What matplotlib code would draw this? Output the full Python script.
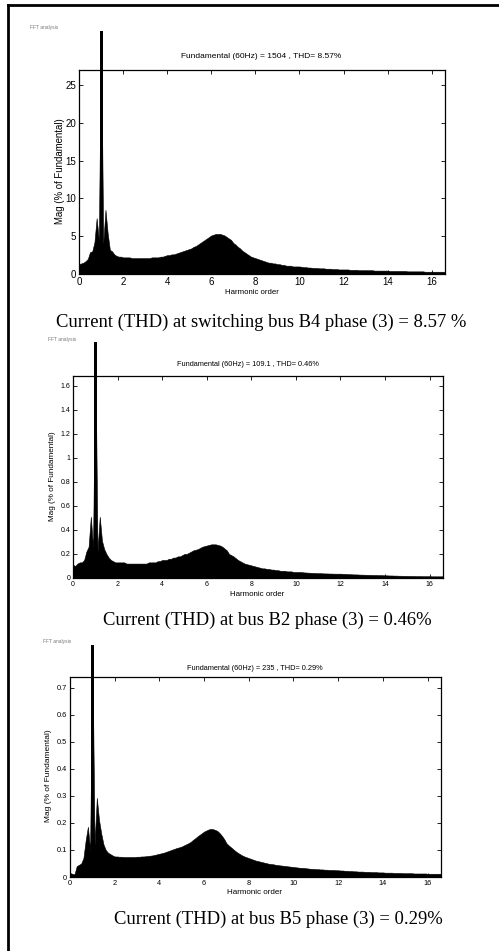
import numpy as np
import matplotlib
matplotlib.use("Agg")
import matplotlib.pyplot as plt
from matplotlib.lines import Line2D

# harmonic order axis (0 to 16.6 in steps of 0.1)
orders = np.round(np.arange(0, 16.65, 0.1), 1)

# spectrum, % of fundamental (fundamental bar cut at its visible top)
mag_b4 = [
    1.3, 1.4, 1.5, 1.7, 2.0, 2.9, 3.0, 4.2, 7.4, 4.5,
    32.2, 4.0, 8.5, 5.4, 3.2, 3.0, 2.6, 2.4, 2.3, 2.3,
    2.2, 2.2, 2.2, 2.2, 2.1, 2.1, 2.1, 2.1, 2.1, 2.1,
    2.1, 2.1, 2.1, 2.2, 2.2, 2.2, 2.2, 2.3, 2.3, 2.4,
    2.5, 2.5, 2.6, 2.6, 2.7, 2.8, 2.9, 3.0, 3.1, 3.2,
    3.3, 3.4, 3.6, 3.7, 3.9, 4.1, 4.3, 4.5, 4.7, 4.9,
    5.1, 5.2, 5.3, 5.3, 5.3, 5.2, 5.1, 4.9, 4.7, 4.5,
    4.1, 3.9, 3.6, 3.4, 3.1, 2.9, 2.7, 2.5, 2.3, 2.2,
    2.1, 2.0, 1.9, 1.8, 1.7, 1.6, 1.5, 1.5, 1.4, 1.4,
    1.3, 1.3, 1.2, 1.2, 1.1, 1.1, 1.1, 1.0, 1.0, 1.0,
    1.0, 0.95, 0.9, 0.9, 0.85, 0.85, 0.8, 0.8, 0.8, 0.75,
    0.75, 0.75, 0.7, 0.7, 0.7, 0.65, 0.65, 0.65, 0.6, 0.6,
    0.6, 0.6, 0.6, 0.55, 0.55, 0.55, 0.55, 0.5, 0.5, 0.5,
    0.5, 0.5, 0.5, 0.5, 0.45, 0.45, 0.45, 0.45, 0.45, 0.45,
    0.45, 0.4, 0.4, 0.4, 0.4, 0.4, 0.4, 0.4, 0.4, 0.35,
    0.35, 0.35, 0.35, 0.35, 0.35, 0.35, 0.35, 0.3, 0.3, 0.3,
    0.3, 0.3, 0.3, 0.3, 0.3, 0.3, 0.3,
]

mag_b2 = [
    0.11, 0.10, 0.12, 0.13, 0.13, 0.15, 0.22, 0.26, 0.51, 0.25,
    1.96, 0.22, 0.51, 0.31, 0.24, 0.20, 0.17, 0.15, 0.14, 0.13,
    0.13, 0.13, 0.13, 0.13, 0.12, 0.12, 0.12, 0.12, 0.12, 0.12,
    0.12, 0.12, 0.12, 0.12, 0.13, 0.13, 0.13, 0.13, 0.14, 0.14,
    0.15, 0.15, 0.15, 0.16, 0.16, 0.17, 0.17, 0.18, 0.18, 0.19,
    0.20, 0.20, 0.21, 0.22, 0.23, 0.235, 0.24, 0.25, 0.26, 0.265,
    0.27, 0.275, 0.28, 0.28, 0.28, 0.275, 0.27, 0.26, 0.245, 0.23,
    0.20, 0.19, 0.18, 0.165, 0.15, 0.14, 0.13, 0.12, 0.115, 0.11,
    0.105, 0.10, 0.095, 0.09, 0.085, 0.08, 0.08, 0.075, 0.075, 0.07,
    0.07, 0.065, 0.065, 0.06, 0.06, 0.06, 0.055, 0.055, 0.055, 0.05,
    0.05, 0.05, 0.05, 0.048, 0.046, 0.045, 0.044, 0.043, 0.042, 0.041,
    0.04, 0.04, 0.039, 0.038, 0.038, 0.037, 0.037, 0.036, 0.036, 0.036,
    0.036, 0.035, 0.034, 0.033, 0.032, 0.031, 0.030, 0.030, 0.029, 0.028,
    0.028, 0.027, 0.027, 0.026, 0.026, 0.025, 0.025, 0.024, 0.024, 0.023,
    0.022, 0.022, 0.021, 0.021, 0.020, 0.020, 0.019, 0.019, 0.018, 0.018,
    0.018, 0.017, 0.017, 0.017, 0.016, 0.016, 0.016, 0.015, 0.015, 0.015,
    0.015, 0.014, 0.014, 0.014, 0.014, 0.014, 0.014,
]

mag_b5 = [
    0.015, 0.012, 0.010, 0.040, 0.045, 0.050, 0.070, 0.135, 0.186, 0.10,
    0.858, 0.12, 0.293, 0.21, 0.16, 0.12, 0.10, 0.09, 0.085, 0.08,
    0.076, 0.076, 0.075, 0.075, 0.074, 0.074, 0.074, 0.074, 0.074, 0.074,
    0.075, 0.075, 0.076, 0.076, 0.077, 0.078, 0.079, 0.080, 0.082, 0.084,
    0.086, 0.088, 0.090, 0.093, 0.096, 0.099, 0.102, 0.105, 0.108, 0.110,
    0.113, 0.117, 0.121, 0.125, 0.130, 0.137, 0.143, 0.150, 0.156, 0.162,
    0.168, 0.172, 0.176, 0.178, 0.177, 0.174, 0.170, 0.162, 0.152, 0.140,
    0.125, 0.117, 0.110, 0.103, 0.096, 0.090, 0.085, 0.080, 0.076, 0.073,
    0.070, 0.067, 0.064, 0.061, 0.059, 0.057, 0.055, 0.053, 0.051, 0.049,
    0.048, 0.047, 0.045, 0.044, 0.043, 0.042, 0.041, 0.040, 0.039, 0.038,
    0.037, 0.036, 0.035, 0.034, 0.034, 0.033, 0.032, 0.031, 0.030, 0.030,
    0.029, 0.029, 0.028, 0.028, 0.027, 0.027, 0.026, 0.026, 0.026, 0.025,
    0.025, 0.024, 0.024, 0.023, 0.023, 0.022, 0.022, 0.021, 0.021, 0.020,
    0.020, 0.020, 0.019, 0.019, 0.019, 0.018, 0.018, 0.018, 0.017, 0.017,
    0.017, 0.016, 0.016, 0.016, 0.016, 0.015, 0.015, 0.015, 0.015, 0.014,
    0.014, 0.014, 0.014, 0.014, 0.013, 0.013, 0.013, 0.013, 0.013, 0.013,
    0.012, 0.012, 0.012, 0.012, 0.012, 0.012, 0.012,
]

headers = [
    "Fundamental (60Hz) = 1504 , THD= 8.57%",
    "Fundamental (60Hz) = 109.1 , THD= 0.46%",
    "Fundamental (60Hz) = 235 , THD= 0.29%",
]
captions = [
    "Current (THD) at switching bus B4 phase (3) = 8.57 %",
    "Current (THD) at bus B2 phase (3) = 0.46%",
    "Current (THD) at bus B5 phase (3) = 0.29%",
]
y_max = [27, 1.68, 0.74]
y_ticks = [
    [0, 5, 10, 15, 20, 25],
    [0, 0.2, 0.4, 0.6, 0.8, 1, 1.2, 1.4, 1.6],
    [0, 0.1, 0.2, 0.3, 0.4, 0.5, 0.6, 0.7],
]
x_ticks = [0, 2, 4, 6, 8, 10, 12, 14, 16]

W, H = 499, 951
fig = plt.figure(figsize=(W / 100, H / 100), dpi=100)
sans = "Liberation Sans"
serif = "Liberation Serif"

def px(x, y):
    return x / W, 1 - y / H

# layout in pixels: axes box (x0, x1, y_top, y_bottom) and text spots
boxes = [(79, 445, 70, 274), (73, 443, 376, 578), (70, 441, 677, 877)]
fft_pos = [(30, 28), (48, 339), (43, 641)]
head_pos = [(261, 57), (248, 364), (255, 668)]
ylab_pos = [(60, 171), (52, 476), (49, 776)]
xlab_pos = [(252, 292), (257, 594), (255, 893)]
cap_pos = [(261, 322), (267, 620), (278, 919)]
tick_fs = [7, 5, 5.3]
head_fs = [6, 5.3, 5.3]
ylab_fs = [6.9, 5.9, 6.0]
xlab_fs = [5.6, 5.7, 5.8]

series = [mag_b4, mag_b2, mag_b5]
for i, mags in enumerate(series):
    x0, x1, yt, yb = boxes[i]
    ax = fig.add_axes([x0 / W, 1 - yb / H, (x1 - x0) / W, (yb - yt) / H])
    ax.fill_between(orders, 0, mags, color="black", linewidth=0.4)
    # fundamental bar runs out of the top of the box
    k = int(np.argmax(mags))
    spike = ax.bar(orders[k], mags[k], width=0.14, color="black", linewidth=0)
    spike[0].set_clip_on(False)
    ax.set_xlim(0, 16.6)
    ax.set_ylim(0, y_max[i])
    ax.set_xticks(x_ticks)
    ax.set_yticks(y_ticks[i])
    ax.set_yticklabels([f"{t:g}" for t in y_ticks[i]])
    ax.tick_params(direction="in", length=3, width=0.6, top=True, right=True,
                   labelsize=tick_fs[i], pad=2)
    for lab in ax.get_xticklabels() + ax.get_yticklabels():
        lab.set_fontfamily(sans)
    for sp in ax.spines.values():
        sp.set_linewidth(0.9)
        sp.set_zorder(3)

    fig.text(*px(*fft_pos[i]), "FFT analysis", fontsize=3.5, color="#777777",
             family=sans, ha="left", va="center")
    fig.text(*px(*head_pos[i]), headers[i], fontsize=head_fs[i], family=sans,
             ha="center", va="center")
    fig.text(*px(*ylab_pos[i]), "Mag (% of Fundamental)", fontsize=ylab_fs[i],
             family=sans, rotation=90, ha="center", va="center")
    fig.text(*px(*xlab_pos[i]), "Harmonic order", fontsize=xlab_fs[i],
             family=sans, ha="center", va="center")
    fig.text(*px(*cap_pos[i]), captions[i], fontsize=13.4, family=serif,
             ha="center", va="center")

# page border (top and left edges only)
fig.add_artist(Line2D([8 / W, 1], [1 - 5 / H, 1 - 5 / H], color="black",
                      linewidth=2, transform=fig.transFigure))
fig.add_artist(Line2D([8 / W, 8 / W], [1 - 5 / H, 0], color="black",
                      linewidth=2, transform=fig.transFigure))

fig.savefig("out.png", dpi=100, facecolor="white")
